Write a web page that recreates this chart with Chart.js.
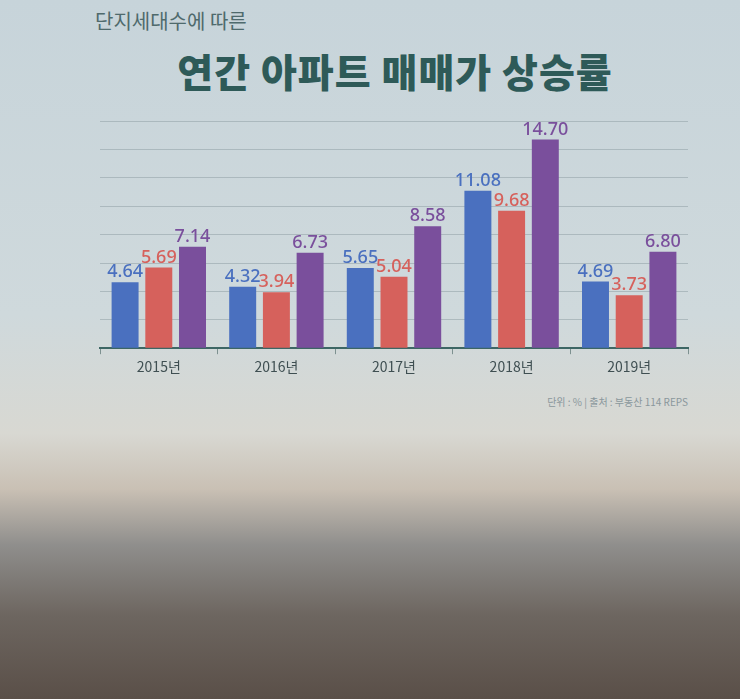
<!DOCTYPE html>
<html><head><meta charset="utf-8">
<script src="https://cdn.jsdelivr.net/npm/chart.js@4"></script>
<style>
html,body{margin:0;padding:0;width:740px;height:699px;overflow:hidden;font-family:"Noto Sans CJK KR","Noto Sans",sans-serif;}
body{background:linear-gradient(to bottom,#c7d4da 0%,#cfd9dc 45%,#d8d8d2 62%,#c9c0b4 70%,#8f8e8c 78%,#6d6660 88%,#5a4f48 100%);position:relative;}
#sub{position:absolute;left:95px;top:6px;font-size:20px;color:#4f6a6c;}
#title{position:absolute;left:0;width:790px;text-align:center;top:42px;font-size:39px;font-weight:900;color:#2e5a58;letter-spacing:1px;}
#src{position:absolute;right:52px;top:394px;font-size:10px;color:#8a979c;}
canvas{position:absolute;left:0;top:0;}
</style></head><body>
<div id="sub">단지세대수에 따른</div>
<div id="title">연간 아파트 매매가 상승률</div>
<div id="src">단위 : %  |  출처 : 부동산 114 REPS</div>
<canvas id="c" width="740" height="699"></canvas>
<script>
const categories=["2015년","2016년","2017년","2018년","2019년"];
const seriesA=[4.64,4.32,5.65,11.08,4.69];
const seriesB=[5.69,3.94,5.04,9.68,3.73];
const seriesC=[7.14,6.73,8.58,14.70,6.80];
const colors=["#4a70bf","#d6615c","#7a4f9c"];
const labelPlugin={id:'vals',afterDatasetsDraw(ch){const c=ch.ctx;c.save();c.font='500 18px "Noto Sans","Noto Sans CJK KR",sans-serif';c.textAlign='center';c.textBaseline='bottom';
ch.data.datasets.forEach((d,i)=>{ch.getDatasetMeta(i).data.forEach((b,j)=>{c.fillStyle=colors[i];c.fillText(d.data[j].toFixed(2),b.x,b.y-1);});});c.restore();}};
new Chart(document.getElementById('c'),{type:'bar',
data:{labels:categories,datasets:[
{label:'A',data:seriesA,backgroundColor:colors[0]},
{label:'B',data:seriesB,backgroundColor:colors[1]},
{label:'C',data:seriesC,backgroundColor:colors[2]}]},
options:{responsive:false,animation:false,
layout:{padding:{left:100,right:52,top:121,bottom:320}},
categoryPercentage:0.86,barPercentage:0.8,
plugins:{legend:{display:false},tooltip:{enabled:false}},
scales:{
x:{offset:true,border:{color:'#3d6664',width:2},grid:{display:true,drawOnChartArea:false,tickLength:6,color:'#7d9190',offset:true},
ticks:{color:'#3f4f52',font:{size:14,family:'"Noto Sans CJK KR",sans-serif'},padding:4}},
y:{min:0,max:16,display:true,border:{display:false},ticks:{display:false,stepSize:2},grid:{color:'rgba(150,165,170,0.6)',drawTicks:false,tickLength:0}}
}},plugins:[labelPlugin]});
</script></body></html>
